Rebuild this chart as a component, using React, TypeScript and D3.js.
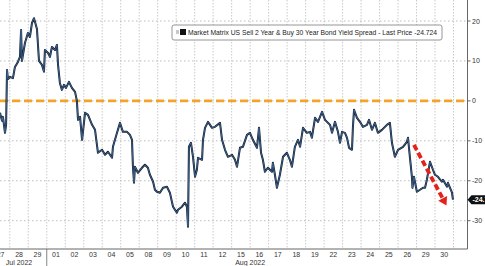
import React from "react";
import * as d3 from "d3";

// Trading-day position (0 = start of 27 Jul) and spread value (bp)
const dayPos = [
  0.47, 0.58, 0.63, 0.74, 0.8, 0.85, 0.9, 1.01, 1.17, 1.28, 1.44, 1.55, 1.61, 1.66, 1.82, 1.98, 2.09, 2.2, 2.31, 2.47,
  2.58, 2.74, 2.85, 2.9, 3.07, 3.17, 3.28, 3.45, 3.55, 3.61, 3.71, 3.82, 3.93, 4.04, 4.2, 4.36, 4.53, 4.63, 4.69, 4.8,
  4.91, 5.07, 5.23, 5.45, 5.61, 5.77, 5.99, 6.15, 6.31, 6.53, 6.58, 6.8, 6.96, 7.12, 7.34, 7.5, 7.61, 7.66, 7.72, 7.77,
  7.93, 8.15, 8.31, 8.47, 8.58, 8.75, 8.85, 8.96, 9.12, 9.29, 9.5, 9.66, 9.83, 10.04, 10.1, 10.31, 10.48, 10.58, 10.64, 10.69,
  10.8, 10.91, 11.02, 11.12, 11.18, 11.4, 11.45, 11.56, 11.72, 11.94, 12.1, 12.37, 12.48, 12.64, 12.8, 13.02, 13.18, 13.29, 13.45, 13.61,
  13.83, 13.99, 14.15, 14.37, 14.48, 14.59, 14.69, 14.8, 14.96, 15.18, 15.23, 15.34, 15.45, 15.61, 15.78, 15.99, 16.15, 16.26, 16.42, 16.59,
  16.7, 16.86, 17.07, 17.24, 17.34, 17.51, 17.67, 17.89, 18.05, 18.32, 18.43, 18.59, 18.75, 18.86, 18.97, 19.13, 19.24, 19.35, 19.51, 19.56,
  19.62, 19.78, 19.94, 20.1, 20.32, 20.43, 20.59, 20.75, 20.91, 21.13, 21.4, 21.56, 21.67, 21.83, 22.0, 22.27, 22.48, 22.54, 22.64, 22.75,
  22.78, 22.86, 23.02, 23.19, 23.35, 23.46, 23.56, 23.73, 23.89, 24.0, 24.16, 24.37, 24.43, 24.65, 24.7, 24.92, 24.97,
];
const spread = [
  -3, -5, -4, -8, -6, 7.75, 5.5, 6, 5.7, 8.5, 9.75, 11, 17.75, 10, 14.5, 17, 16, 19.5, 20.7, 18,
  10, 9, 7.3, 12.75, 12, 11, 13.5, 12.75, 14, 9, 4.5, 2.75, 4, 3.25, 4.75, 3.25, 2.25, 0, -4.75, -4,
  -9.75, -3, -3.5, -6, -7.25, -13, -12.25, -13.5, -12.75, -14.25, -11.5, -8, -5.5, -7.75, -7.75, -8.5, -9.75, -16.5, -20.5, -16.5,
  -18, -16.75, -16, -16.75, -18.5, -20.25, -22.25, -22.75, -23, -21.75, -21.5, -23, -26.5, -28, -27.25, -26.5, -25.5, -26.5, -31.5, -11.5,
  -10.5, -14, -19, -17.25, -14.25, -14.75, -9.75, -6.75, -5.25, -6.75, -6.5, -5.5, -9.75, -12.25, -14, -13.5, -14.75, -16.5, -11.75, -11.5,
  -8.5, -8, -9.75, -11.75, -6.75, -13, -14.75, -17.75, -16.75, -17.75, -15.5, -18.5, -21.75, -18.5, -14, -13, -14.75, -16.5, -11.5, -9.75,
  -11.5, -6.75, -8, -7.75, -9.25, -4.25, -5.25, -2.75, -4.75, -6, -8, -5.25, -7.75, -10.5, -7.75, -8, -9.25, -11.75, -12.25, -6.5,
  -2.25, -4.25, -5.25, -6.5, -6, -4.75, -7.25, -5.5, -8, -7.25, -6, -5.5, -10.5, -14, -12.25, -11.5, -10.25, -9.25, -14, -19,
  -21.75, -19, -22.75, -22.25, -21.75, -21.75, -19.75, -15.25, -17.25, -18.5, -19, -20.25, -19.75, -21.5, -20.5, -23, -24.724,
];

const dayLabels = ["27", "28", "29", "01", "02", "03", "04", "05", "08", "09", "10", "11", "12", "15", "16", "17", "18", "19", "22", "23", "24", "25", "26", "29", "30"];
const monthLabels = ["Jul 2022", "Aug 2022"];
const monthLabelPos = [1.5, 14];
const monthBoundaries = [3];
const yTicks = [20, 10, 0, -10, -20, -30];
const legendText = "Market Matrix US Sell 2 Year & Buy 30 Year Bond Yield Spread - Last Price -24.724";
const lastPrice = "-24.724";
const arrowFrom = [22.86, -11];
const arrowTo = [24.62, -26.2];

const W = 485;
const H = 266;
const plotRight = 467.5;
const plotBottom = 249;
const font = "'Liberation Sans', Arial, sans-serif";

export default function App() {
  const x = d3.scaleLinear().domain([0, 25]).range([-8.7, 453.5]);
  const y = d3.scaleLinear().domain([-30, 20]).range([220.7, 21]);
  const pts: [number, number][] = dayPos.map((d, i) => [x(d), y(spread[i])]);
  const line = d3.line<[number, number]>().x((p) => p[0]).y((p) => p[1]);
  const path = line(pts) || "";
  const boundaries = d3.range(1, 26);
  const lastY = y(spread[spread.length - 1]);

  const ax1 = x(arrowFrom[0]), ay1 = y(arrowFrom[1]);
  const ax2 = x(arrowTo[0]), ay2 = y(arrowTo[1]);
  const ang = Math.atan2(ay2 - ay1, ax2 - ax1);
  const headLen = 8, headW = 5;
  const bx = ax2 - headLen * Math.cos(ang), by = ay2 - headLen * Math.sin(ang);
  const head = [
    [ax2, ay2],
    [bx + headW * Math.sin(ang), by - headW * Math.cos(ang)],
    [bx - headW * Math.sin(ang), by + headW * Math.cos(ang)],
  ].map((p) => p.join(",")).join(" ");
  const shaftEndX = ax2 - (headLen - 1) * Math.cos(ang), shaftEndY = ay2 - (headLen - 1) * Math.sin(ang);

  return (
    <svg width={W} height={H} style={{ position: "absolute", left: 0, top: 0, background: "#fff" }} fontFamily={font}>
      <defs>
        <clipPath id="plotclip">
          <rect x={0} y={0} width={plotRight} height={plotBottom} />
        </clipPath>
      </defs>
      <rect x={0} y={0} width={W} height={H} fill="#fff" />
      <g clipPath="url(#plotclip)">
        {boundaries.map((b) => (
          <line key={b} x1={x(b)} x2={x(b)} y1={0} y2={plotBottom} stroke="#c4c4c4" strokeWidth={0.9} strokeDasharray="1.5,1.5" />
        ))}
        {yTicks.map((t) => (
          <line key={t} x1={0} x2={plotRight} y1={y(t)} y2={y(t)} stroke="#b4b4b4" strokeWidth={0.9} strokeDasharray="1.5,2.5" />
        ))}
        <line x1={0} x2={plotRight} y1={y(0)} y2={y(0)} stroke="#f4a326" strokeWidth={2.6} strokeDasharray="8,4" />
        <path d={path} fill="none" stroke="#0e1a2c" strokeWidth={2} strokeLinejoin="round" />
        <path d={path} fill="none" stroke="#5b8dc6" strokeWidth={0.6} strokeLinejoin="round" />
        <line x1={ax1} y1={ay1} x2={shaftEndX} y2={shaftEndY} stroke="#e3221b" strokeWidth={3.8} strokeDasharray="6,3" />
        <polygon points={head} fill="#e3221b" />
      </g>
      <line x1={plotRight} x2={plotRight} y1={0} y2={plotBottom} stroke="#666" strokeWidth={1} />
      <line x1={0} x2={plotRight} y1={plotBottom} y2={plotBottom} stroke="#666" strokeWidth={1} />
      {monthBoundaries.map((m) => (
        <line key={m} x1={x(m)} x2={x(m)} y1={plotBottom} y2={H} stroke="#666" strokeWidth={0.8} />
      ))}
      {yTicks.map((t) => (
        <g key={t}>
          <line x1={plotRight} x2={plotRight + 3} y1={y(t)} y2={y(t)} stroke="#666" strokeWidth={1} />
          <text x={plotRight + 4.5} y={y(t) + 2.5} fontSize={7} fill="#333">{t}</text>
        </g>
      ))}
      {dayLabels.map((l, i) => (
        <text key={i} x={x(i + 0.5)} y={257} fontSize={7} fill="#333" textAnchor="middle">{l}</text>
      ))}
      {monthLabels.map((l, i) => (
        <text key={l} x={x(monthLabelPos[i])} y={264.5} fontSize={7} fill="#333" textAnchor="middle">{l}</text>
      ))}
      <polygon points={`${plotRight},${lastY} ${plotRight + 4},${lastY - 4.5} ${W},${lastY - 4.5} ${W},${lastY + 4.5} ${plotRight + 4},${lastY + 4.5}`} fill="#111" />
      <text x={plotRight + 5} y={lastY + 2.5} fontSize={7} fill="#fff" fontWeight="bold">{lastPrice}</text>
      <rect x={172} y={25} width={270} height={15} rx={2} fill="#fff" stroke="#8a8a8a" strokeWidth={0.9} />
      <rect x={176} y={30} width={3} height={4} fill="#c8c8c8" />
      <rect x={180} y={29} width={6} height={6} fill="#111" />
      <text x={188} y={35.3} fontSize={7.2} fill="#222" textLength={249} lengthAdjust="spacingAndGlyphs">{legendText}</text>
    </svg>
  );
}
